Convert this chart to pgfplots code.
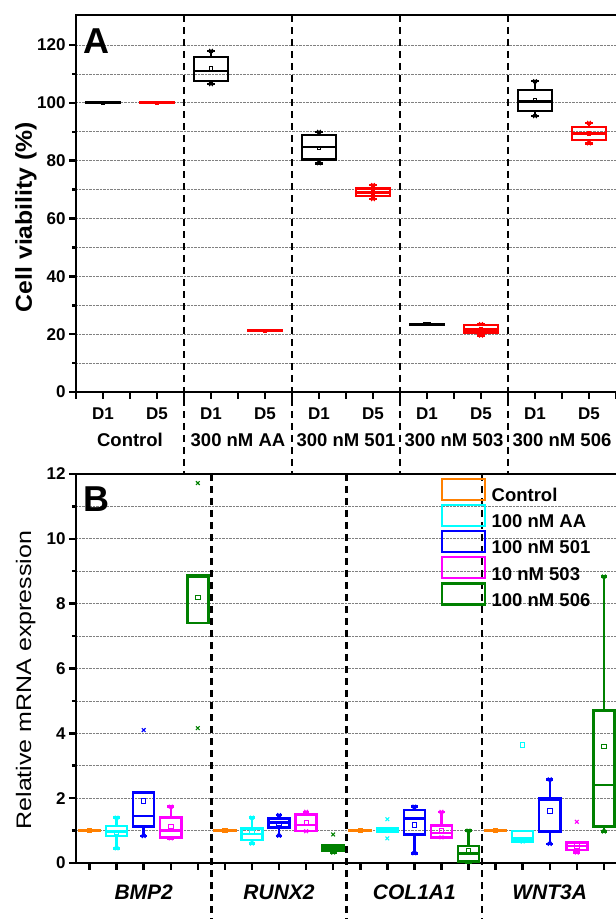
\documentclass[border=0pt]{standalone}
\usepackage{fontspec}
\setmainfont{Liberation Sans}
\usepackage{pgfplots}
\pgfplotsset{compat=1.18}
\usepgfplotslibrary{statistics}
\definecolor{myorange}{RGB}{255,128,0}
\definecolor{mycyan}{RGB}{0,255,255}
\definecolor{myblue}{RGB}{0,0,255}
\definecolor{mymagenta}{RGB}{255,0,255}
\definecolor{mygreen}{RGB}{0,128,0}
\definecolor{myred}{RGB}{255,0,0}
\newcommand\fs[1]{\fontsize{#1}{#1}\selectfont}
\tikzset{divider/.style={line width=2.8pt, black, dash pattern=on 7pt off 5pt}}
\pgfplotsset{
  bx/.style={forget plot, line width=2.5pt, solid, mark=none},
  mn/.style={forget plot, only marks, mark=square, mark size=2.2pt, line width=0.8pt},
  xm/.style={forget plot, only marks, mark=x, mark size=2.6pt, line width=1.1pt},
  common/.style={
    scale only axis, clip=false,
    axis line style={line width=2.8pt, black},
    tick style={line width=2.5pt, black},
    major tick length=7pt, minor tick length=4pt,
    tick align=outside, tick pos=left,
    ticklabel style={font=\bfseries\fs{17}},
    /pgf/number format/assume math mode=true,
    ymajorgrids, yminorgrids,
    major grid style={densely dotted, gray, line width=0.8pt},
    minor grid style={densely dotted, gray, line width=0.8pt},
    boxplot/draw direction=y,
  },
}
\begin{document}
\begin{tikzpicture}
\path[use as bounding box] (0pt,0pt) rectangle (616pt,919pt);
% ---------------- Panel A ----------------
\begin{axis}[common,
  at={(76pt,527pt)}, anchor=south west,
  width=567pt, height=377pt,
  xmin=0, xmax=21, ymin=0, ymax=130.4,
  ytick={0,20,...,120}, minor ytick={10,30,...,110},
  xtick={0,...,20},
  xticklabels={{},D1,{},D5,{},D1,{},D5,{},D1,{},D5,{},D1,{},D5,{},D1,{},D5,{}},
  xticklabel style={yshift=-5pt},
  ylabel={Cell viability (\%)},
  ylabel style={font=\bfseries\fs{23}, at={(axis description cs:-0.0776,0.464)}, anchor=base, xscale=1.077},
  boxplot/box extend=1.25, boxplot/whisker extend=0.26,
]
\addplot[bx, black, boxplot prepared={draw position=1, lower whisker=99.9, lower quartile=99.9, median=100, upper quartile=100.1, upper whisker=100.1}] coordinates {};
\addplot[bx, myred, boxplot prepared={draw position=3, lower whisker=99.9, lower quartile=99.9, median=100, upper quartile=100.1, upper whisker=100.1}] coordinates {};
\addplot[bx, black, boxplot prepared={draw position=5, lower whisker=106.5, lower quartile=107.5, median=111.1, upper quartile=115.9, upper whisker=118.0}] coordinates {};
\addplot[bx, myred, boxplot prepared={draw position=7, lower whisker=21.1, lower quartile=21.1, median=21.2, upper quartile=21.3, upper whisker=21.3}] coordinates {};
\addplot[bx, black, boxplot prepared={draw position=9, lower whisker=79.1, lower quartile=80.4, median=84.8, upper quartile=88.9, upper whisker=90.0}] coordinates {};
\addplot[bx, myred, boxplot prepared={draw position=11, lower whisker=66.7, lower quartile=67.8, median=69.0, upper quartile=70.4, upper whisker=71.6}] coordinates {};
\addplot[bx, black, boxplot prepared={draw position=13, lower whisker=23.3, lower quartile=23.4, median=23.5, upper quartile=23.6, upper whisker=23.7}] coordinates {};
\addplot[bx, myred, boxplot prepared={draw position=15, lower whisker=19.5, lower quartile=20.5, median=21.7, upper quartile=23.2, upper whisker=23.5}] coordinates {};
\addplot[bx, black, boxplot prepared={draw position=17, lower whisker=95.4, lower quartile=97.2, median=100.4, upper quartile=104.4, upper whisker=107.5}] coordinates {};
\addplot[bx, myred, boxplot prepared={draw position=19, lower whisker=86.0, lower quartile=87.1, median=89.4, upper quartile=91.7, upper whisker=93.1}] coordinates {};
% means
\addplot[mn, black, mark size=1.8pt] coordinates {(1,100) (5,111.9) (9,84.4) (13,23.6) (17,101.0)};
\addplot[mn, myred, mark size=1.8pt] coordinates {(3,100) (7,21.2) (11,69.0) (15,21.8) (19,89.5)};
% 1%/99% marks
\addplot[xm, black] coordinates {(5,106.5) (5,118.0) (9,79.1) (9,90.0) (17,95.4) (17,107.5)};
\addplot[xm, myred] coordinates {(11,66.7) (11,71.6) (15,19.5) (15,23.5) (19,86.0) (19,93.1)};
% dividers
\pgfplotsinvokeforeach{4,8,12,16}{
  \draw[divider] (axis cs:#1,130.4) -- (axis cs:#1,-28.35);
}
\node[anchor=base west, inner sep=0pt, font=\bfseries\fs{36}] at (axis cs:0.26,117.2) {A};
\node[anchor=base, inner sep=0pt, font=\bfseries\fs{18.5}] at (axis cs:2,-19.0) {Control};
\node[anchor=base, inner sep=0pt, font=\bfseries\fs{18.5}] at (axis cs:6,-19.0) {300 nM AA};
\node[anchor=base, inner sep=0pt, font=\bfseries\fs{18.5}] at (axis cs:10,-19.0) {300 nM 501};
\node[anchor=base, inner sep=0pt, font=\bfseries\fs{18.5}] at (axis cs:14,-19.0) {300 nM 503};
\node[anchor=base, inner sep=0pt, font=\bfseries\fs{18.5}] at (axis cs:18,-19.0) {300 nM 506};
\end{axis}
% ---------------- Panel B ----------------
\begin{axis}[common,
  at={(76pt,56pt)}, anchor=south west,
  width=568.5pt, height=389pt,
  xmin=0.5, xmax=21.5, ymin=0, ymax=12,
  ytick={0,2,...,12}, minor ytick={1,3,...,11},
  xtick={1,...,20}, xticklabels={},
  ylabel={Relative mRNA expression},
  ylabel style={font=\fs{21}, at={(axis description cs:-0.079,0.470)}, anchor=base, xscale=1.19},
  boxplot/box extend=0.78, boxplot/whisker extend=0.25,
  legend image code/.code={\draw[#1, line width=2.5pt] (0pt,-3.9pt) rectangle (43pt,17.1pt);},
  legend style={draw=none, fill=none, at={(axis cs:13.97,11.89)}, anchor=north west,
    inner sep=0pt, outer sep=0pt, row sep=0.5pt, font=\bfseries\fs{18.5},
    nodes={inner sep=0pt},
    /tikz/every odd column/.append style={column sep=5.5pt}},
  legend cell align=left,
]
% BMP2
\addplot[bx, myorange, boxplot prepared={draw position=1, lower whisker=0.99, lower quartile=0.99, median=1.0, upper quartile=1.01, upper whisker=1.01}] coordinates {};
\addplot[bx, mycyan, boxplot prepared={draw position=2, lower whisker=0.45, lower quartile=0.84, median=0.97, upper quartile=1.14, upper whisker=1.40}] coordinates {};
\addplot[bx, myblue, boxplot prepared={draw position=3, lower whisker=0.83, lower quartile=1.12, median=1.45, upper quartile=2.18, upper whisker=2.18}] coordinates {};
\addplot[bx, mymagenta, boxplot prepared={draw position=4, lower whisker=0.76, lower quartile=0.78, median=1.00, upper quartile=1.41, upper whisker=1.74}] coordinates {};
\addplot[bx, mygreen, boxplot prepared={draw position=5, lower whisker=7.40, lower quartile=7.40, median=8.82, upper quartile=8.87, upper whisker=8.87}] coordinates {};
% RUNX2
\addplot[bx, myorange, boxplot prepared={draw position=6, lower whisker=0.99, lower quartile=0.99, median=1.0, upper quartile=1.01, upper whisker=1.01}] coordinates {};
\addplot[bx, mycyan, boxplot prepared={draw position=7, lower whisker=0.60, lower quartile=0.71, median=0.90, upper quartile=1.07, upper whisker=1.40}] coordinates {};
\addplot[bx, myblue, boxplot prepared={draw position=8, lower whisker=0.84, lower quartile=1.10, median=1.25, upper quartile=1.38, upper whisker=1.48}] coordinates {};
\addplot[bx, mymagenta, boxplot prepared={draw position=9, lower whisker=0.98, lower quartile=0.98, median=1.17, upper quartile=1.50, upper whisker=1.58}] coordinates {};
\addplot[bx, mygreen, boxplot prepared={draw position=10, lower whisker=0.32, lower quartile=0.38, median=0.48, upper quartile=0.56, upper whisker=0.56}] coordinates {};
% COL1A1
\addplot[bx, myorange, boxplot prepared={draw position=11, lower whisker=0.99, lower quartile=0.99, median=1.0, upper quartile=1.01, upper whisker=1.01}] coordinates {};
\addplot[bx, mycyan, boxplot prepared={draw position=12, lower whisker=0.97, lower quartile=0.97, median=1.02, upper quartile=1.08, upper whisker=1.08}] coordinates {};
\addplot[bx, myblue, boxplot prepared={draw position=13, lower whisker=0.30, lower quartile=0.88, median=1.38, upper quartile=1.64, upper whisker=1.74}] coordinates {};
\addplot[bx, mymagenta, boxplot prepared={draw position=14, lower whisker=0.79, lower quartile=0.79, median=0.93, upper quartile=1.16, upper whisker=1.58}] coordinates {};
\addplot[bx, mygreen, boxplot prepared={draw position=15, lower whisker=0.02, lower quartile=0.04, median=0.30, upper quartile=0.53, upper whisker=1.00}] coordinates {};
% WNT3A
\addplot[bx, myorange, boxplot prepared={draw position=16, lower whisker=0.99, lower quartile=0.99, median=1.0, upper quartile=1.01, upper whisker=1.01}] coordinates {};
\addplot[bx, mycyan, boxplot prepared={draw position=17, lower whisker=0.66, lower quartile=0.66, median=0.76, upper quartile=0.99, upper whisker=0.99}] coordinates {};
\addplot[bx, myblue, boxplot prepared={draw position=18, lower whisker=0.59, lower quartile=0.97, median=1.95, upper quartile=2.00, upper whisker=2.58}] coordinates {};
\addplot[bx, mymagenta, boxplot prepared={draw position=19, lower whisker=0.32, lower quartile=0.40, median=0.53, upper quartile=0.64, upper whisker=0.64}] coordinates {};
\addplot[bx, mygreen, boxplot prepared={draw position=20, lower whisker=0.97, lower quartile=1.12, median=2.41, upper quartile=4.70, upper whisker=8.84}] coordinates {};
% means
\addplot[mn, myorange] coordinates {(1,1) (6,1) (11,1) (16,1)};
\addplot[mn, mycyan] coordinates {(2,0.95) (7,0.94) (12,1.02) (17,3.64)};
\addplot[mn, myblue] coordinates {(3,1.92) (8,1.22) (13,1.17) (18,1.61)};
\addplot[mn, mymagenta] coordinates {(4,1.12) (9,1.26) (14,0.99) (19,0.53)};
\addplot[mn, mygreen] coordinates {(5,8.20) (10,0.47) (15,0.38) (20,3.59)};
% 1%/99% and outliers
\addplot[xm, mycyan] coordinates {(2,0.45) (2,1.40) (7,0.60) (7,1.40) (12,1.35) (12,0.76) (17,0.66)};
\addplot[xm, myblue] coordinates {(3,0.83) (3,4.10) (8,0.84) (8,1.48) (13,0.30) (13,1.74) (18,0.59) (18,2.58)};
\addplot[xm, mymagenta] coordinates {(4,0.76) (4,1.74) (9,0.98) (9,1.58) (14,0.79) (14,1.58) (19,0.32) (19,1.27)};
\addplot[xm, mygreen] coordinates {(5,11.72) (5,4.16) (10,0.32) (10,0.88) (15,1.00) (20,8.84) (20,0.97)};
% legend
\addlegendimage{myorange}\addlegendentry{Control}
\addlegendimage{mycyan}\addlegendentry{100 nM AA}
\addlegendimage{myblue}\addlegendentry{100 nM 501}
\addlegendimage{mymagenta}\addlegendentry{10 nM 503}
\addlegendimage{mygreen}\addlegendentry{100 nM 506}
% dividers
\pgfplotsinvokeforeach{5.5,10.5,15.5}{
  \draw[divider] (axis cs:#1,12) -- (axis cs:#1,-2);
}
\node[anchor=base west, inner sep=0pt, font=\bfseries\fs{36}] at (axis cs:0.76,10.83) {B};
\node[anchor=base, inner sep=0pt, font=\bfseries\itshape\fs{21}] at (axis cs:3,-1.14) {BMP2};
\node[anchor=base, inner sep=0pt, font=\bfseries\itshape\fs{21}] at (axis cs:8,-1.14) {RUNX2};
\node[anchor=base, inner sep=0pt, font=\bfseries\itshape\fs{21}] at (axis cs:13,-1.14) {COL1A1};
\node[anchor=base, inner sep=0pt, font=\bfseries\itshape\fs{21}] at (axis cs:18,-1.14) {WNT3A};
\end{axis}
\end{tikzpicture}
\end{document}
